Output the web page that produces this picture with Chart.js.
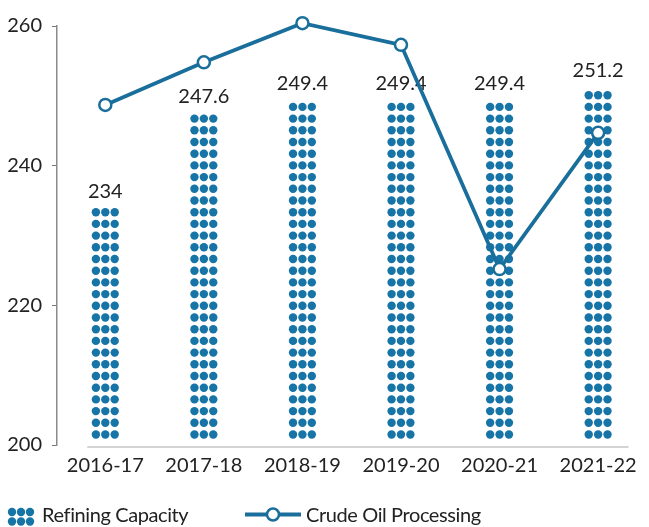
<!DOCTYPE html>
<html>
<head>
<meta charset="utf-8">
<script src="https://cdn.jsdelivr.net/npm/chart.js@4/dist/chart.umd.min.js"></script>
<style>
  html, body { margin: 0; padding: 0; background: #fff; }
  #wrap { position: relative; width: 649px; height: 527px; overflow: hidden; }
  #c { position: absolute; left: 0; top: 0; }
  .lg-text { position: absolute; font-family: Lato, "Open Sans", sans-serif; font-size: 20px; line-height: 24px; color: #222; white-space: nowrap; letter-spacing: -0.4px; }
  .lg-icon { position: absolute; }
</style>
</head>
<body>
<div id="wrap">
  <canvas id="c" width="649" height="527"></canvas>

  <!-- legend -->
  <svg class="lg-icon" style="left:0;top:500px" width="40" height="27">
    <g fill="#1774a6">
      <circle cx="12" cy="12" r="4.2"/><circle cx="21" cy="12" r="4.2"/><circle cx="30" cy="12" r="4.2"/>
      <circle cx="12" cy="21.5" r="4.2"/><circle cx="21" cy="21.5" r="4.2"/><circle cx="30" cy="21.5" r="4.2"/>
    </g>
  </svg>
  <div class="lg-text" style="left:42px;top:502px">Refining Capacity</div>

  <svg class="lg-icon" style="left:240px;top:500px" width="66" height="27">
    <line x1="5" y1="14.5" x2="61" y2="14.5" stroke="#1a6e9b" stroke-width="3.8"/>
    <circle cx="33" cy="14.5" r="6" fill="#fff" stroke="#1a6e9b" stroke-width="2.5"/>
  </svg>
  <div class="lg-text" style="left:306px;top:502px">Crude Oil Processing</div>
</div>

<script>
// Fiscal years on the x axis
const years = ['2016-17', '2017-18', '2018-19', '2019-20', '2020-21', '2021-22'];
// Refining capacity (MMTPA)
const refiningCapacity = [234, 247.6, 249.4, 249.4, 249.4, 251.2];
// Crude oil processed (MMT)
const crudeProcessing = [248.7, 254.8, 260.4, 257.3, 225.2, 244.7];
// Value axis ticks
const yTicks = [200, 220, 240, 260];

const DOT_COLOR = '#1774a6';
const LINE_COLOR = '#1a6e9b';
const TEXT_COLOR = '#222';
const FONT = { family: 'Lato, "Open Sans", sans-serif', size: 20 };

// Fills each capacity bar with a 3-wide stack of dots, built up from the baseline.
const dotFill = {
  id: 'dotFill',
  afterDatasetDraw(chart, args) {
    if (args.meta.type !== 'bar') return;
    const ctx = chart.ctx;
    const r = 4.2, pitchY = 11.7, pitchX = 9.4;
    ctx.save();
    ctx.fillStyle = DOT_COLOR;
    args.meta.data.forEach(bar => {
      const { x, y, base } = bar.getProps(['x', 'y', 'base'], true);
      for (let cy = base - 10; cy - r >= y - 1; cy -= pitchY) {
        for (let k = -1; k <= 1; k++) {
          ctx.beginPath();
          ctx.arc(x + k * pitchX, cy, r, 0, Math.PI * 2);
          ctx.fill();
        }
      }
    });
    // value labels above the bars
    ctx.fillStyle = TEXT_COLOR;
    ctx.font = `${FONT.size}px ${FONT.family}`;
    ctx.textAlign = 'center';
    ctx.textBaseline = 'alphabetic';
    args.meta.data.forEach((bar, i) => {
      const { x, y } = bar.getProps(['x', 'y'], true);
      ctx.fillText(String(refiningCapacity[i]), x, y - 10);
    });
    ctx.restore();
  }
};

// Light baseline under the bars
const baseLine = {
  id: 'baseLine',
  beforeDatasetsDraw(chart) {
    const { ctx, chartArea, scales } = chart;
    const xl = scales.x.getPixelForValue(0) - 18;
    const y = chartArea.bottom + 2;
    ctx.save();
    ctx.strokeStyle = '#d4d4d4';
    ctx.lineWidth = 2;
    ctx.beginPath();
    ctx.moveTo(xl, y);
    ctx.lineTo(chartArea.right - 12, y);
    ctx.stroke();
    ctx.restore();
  }
};

function draw() {
  new Chart(document.getElementById('c'), {
    data: {
      datasets: [
        {
          type: 'line',
          label: 'Crude Oil Processing',
          data: crudeProcessing.map((v, i) => ({ x: i, y: v })),
          borderColor: LINE_COLOR,
          borderWidth: 3.8,
          pointRadius: 6,
          pointBorderWidth: 2.5,
          pointBackgroundColor: '#fff',
          pointBorderColor: LINE_COLOR,
          tension: 0,
          clip: false,
          order: 0
        },
        {
          type: 'bar',
          label: 'Refining Capacity',
          data: refiningCapacity.map((v, i) => ({ x: i, y: v })),
          base: yTicks[0],
          backgroundColor: 'rgba(0,0,0,0)',
          borderWidth: 0,
          barThickness: 28,
          order: 1
        }
      ]
    },
    options: {
      responsive: false,
      animation: false,
      devicePixelRatio: 1,
      layout: { padding: { top: 26, right: 0, bottom: 40, left: 0 } },
      plugins: { legend: { display: false }, tooltip: { enabled: false } },
      scales: {
        x: {
          type: 'linear',
          offset: false,
          min: -0.49,
          max: 5.43,
          afterBuildTicks: s => { s.ticks = years.map((_, i) => ({ value: i })); },
          ticks: {
            callback: v => years[v],
            font: FONT,
            color: TEXT_COLOR,
            padding: 9,
            autoSkip: false,
            maxRotation: 0
          },
          grid: { display: false, drawTicks: false },
          border: { display: false }
        },
        y: {
          type: 'linear',
          min: 200,
          max: 260,
          afterBuildTicks: s => { s.ticks = yTicks.map(v => ({ value: v })); },
          afterFit: s => { s.width = 57; },
          ticks: { font: FONT, color: TEXT_COLOR, padding: 10 },
          grid: { drawOnChartArea: false, drawTicks: true, tickLength: 5, color: '#777', lineWidth: 1 },
          border: { display: true, color: '#8a8a8a', width: 1.5 }
        }
      }
    },
    plugins: [dotFill, baseLine]
  });
}

if (document.fonts && document.fonts.load) {
  document.fonts.load('20px Lato').then(draw, draw);
} else {
  draw();
}
</script>
</body>
</html>
